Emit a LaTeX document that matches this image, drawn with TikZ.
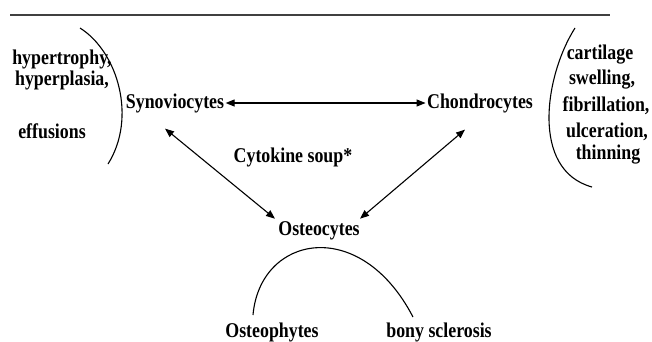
\documentclass[tikz,border=0pt]{standalone}
\usepackage{fontspec}
\newfontfamily\lblfont{Liberation Serif}[FakeStretch=0.85]
\usetikzlibrary{arrows.meta}

\begin{document}
\begin{tikzpicture}[x=1pt,y=-1pt,>={Triangle[length=9pt,width=7pt]},line width=1.1pt,
        main node/.style={inner sep=1pt,font=\lblfont\bfseries\fontsize{21}{24}\selectfont},
        side node/.style={main node}]
        \useasboundingbox (0,0) rectangle (652,341);
        \draw[line width=1.6pt,black!75] (10,15) -- (610,15);
        \node[main node] (syn) at (175,103) {Synoviocytes};
        \node[main node] (chon) at (480,103) {Chondrocytes};
        \node[main node] (ost) at (319,231) {Osteocytes};
        \node[main node] (soup) at (293,157) {Cytokine soup*};
        % synovium
        \node[side node] (hyt) at (62,59) {hypertrophy,};
        \node[side node] (hyp) at (62,80) {hyperplasia,};
        \node[side node] (eff) at (52,131) {effusions};
        % cartilage
        \node[side node] (car) at (600,55) {cartilage};
        \node[side node] (swe) at (602,80) {swelling,};
        \node[side node] (fib) at (606,106) {fibrillation,};
        \node[side node] (ulc) at (607,132) {ulceration,};
        \node[side node] (thi) at (608,155) {thinning};
        % bone
        \node[side node] (phy) at (272,332) {Osteophytes};
        \node[side node] (scl) at (439,332) {bony sclerosis};
        \path[<->]
        (syn) edge (chon)
        ([shift={(-10,14.5)}]syn.south) edge ([shift={(-44,-1.5)}]ost.north)
        ([shift={(-15,15.5)}]chon.south) edge ([shift={(41,-1.5)}]ost.north)
        ;
        \draw (80,28) .. controls (118,52) and (137,118) .. (108,164);
        \draw (575,28) .. controls (545,75) and (530,170) .. (592,187);
        \draw (253,315) .. controls (260,235) and (360,215) .. (413,317);
        \end{tikzpicture}
\end{document}
